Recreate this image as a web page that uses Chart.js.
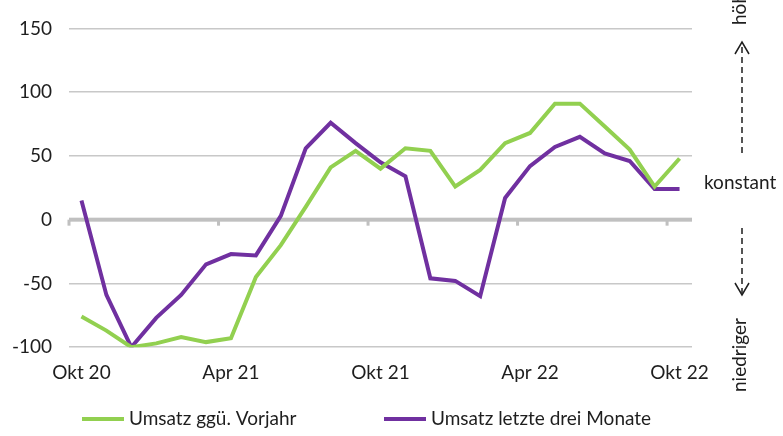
<!DOCTYPE html>
<html>
<head>
<meta charset="utf-8">
<script src="https://cdn.jsdelivr.net/npm/chart.js@4.4.1/dist/chart.umd.min.js"></script>
<style>
  body { margin: 0; background: #fff; }
  #wrap { width: 783px; height: 436px; position: relative; }
</style>
</head>
<body>
<div id="wrap"><canvas id="Chart"></canvas></div>
<script>
const months = ["Okt 20","Nov 20","Dez 20","Jan 21","Feb 21","Mär 21","Apr 21","Mai 21","Jun 21","Jul 21","Aug 21","Sep 21",
                "Okt 21","Nov 21","Dez 21","Jan 22","Feb 22","Mär 22","Apr 22","Mai 22","Jun 22","Jul 22","Aug 22","Sep 22","Okt 22"];
const shownLabels = ["Okt 20","Apr 21","Okt 21","Apr 22","Okt 22"];
const yTicks = [-100, -50, 0, 50, 100, 150];
const vorjahr    = [-76,-87,-100,-97,-92,-96,-93,-45,-20,10,41,54,40,56,54,26,39,60,68,91,91,73,55,26,48];
const dreiMonate = [15,-59,-100,-77,-59,-35,-27,-28,3,56,76,60,45,34,-46,-48,-60,17,42,57,65,52,46,24,24];
const seriesNames = ["Umsatz ggü. Vorjahr", "Umsatz letzte drei Monate"];
const seriesColors = ["#92d050", "#7030a0"];

const FONT_SIZE = 19;
const FONT = FONT_SIZE + "px Lato";
const TEXT = "#1e1e1e";

// zero line with small tick stubs under it, like an axis crossing at 0
const zeroAxis = {
  id: "zeroAxis",
  beforeDatasetsDraw(chart) {
    const {ctx, scales: {x, y}} = chart;
    const y0 = y.getPixelForValue(0);
    ctx.save();
    ctx.fillStyle = "#c0c0c0";
    ctx.fillRect(x.left, y0 - 2, x.right - x.left, 4);
    shownLabels.forEach(l => {
      const px = x.getPixelForValue(months.indexOf(l) - 0.5);
      ctx.fillRect(px - 1.5, y0, 3, 6);
    });
    ctx.restore();
  }
};

// legend with line samples + the höher / konstant / niedriger hints on the right
const extras = {
  id: "extras",
  afterDraw(chart) {
    const ctx = chart.ctx;
    ctx.save();
    ctx.font = FONT;
    ctx.fillStyle = TEXT;
    ctx.textBaseline = "middle";

    // legend, two entries side by side
    const ly = 419, box = 42, gap = 5;
    const starts = [82, 384];
    seriesNames.forEach((n, i) => {
      ctx.fillStyle = seriesColors[i];
      ctx.fillRect(starts[i], ly - 2, box, 4);
      ctx.fillStyle = TEXT;
      ctx.textAlign = "left";
      ctx.fillText(n, starts[i] + box + gap, ly);
    });

    // right-hand hints
    ctx.textAlign = "left";
    ctx.fillText("konstant", 704, 183);
    [["höher", 25], ["niedriger", 392]].forEach(([t, yy]) => {
      ctx.save();
      ctx.translate(740, yy);
      ctx.rotate(-Math.PI / 2);
      ctx.fillText(t, 0, 0);
      ctx.restore();
    });

    ctx.strokeStyle = TEXT;
    ctx.lineWidth = 1.5;
    ctx.setLineDash([6, 4]);
    ctx.beginPath();
    ctx.moveTo(742, 153); ctx.lineTo(742, 44);
    ctx.moveTo(742, 228); ctx.lineTo(742, 293);
    ctx.stroke();
    ctx.setLineDash([]);
    ctx.beginPath();
    ctx.moveTo(735, 54); ctx.lineTo(742, 42); ctx.lineTo(749, 54);
    ctx.moveTo(735, 283); ctx.lineTo(742, 295); ctx.lineTo(749, 283);
    ctx.stroke();
    ctx.restore();
  }
};

new Chart("Chart", {
  type: "line",
  data: {
    labels: months,
    datasets: [{
      label: seriesNames[0],
      data: vorjahr,
      borderColor: seriesColors[0],
      backgroundColor: seriesColors[0],
      borderWidth: 4,
      pointRadius: 0,
      tension: 0,
      fill: false
    }, {
      label: seriesNames[1],
      data: dreiMonate,
      borderColor: seriesColors[1],
      backgroundColor: seriesColors[1],
      borderWidth: 4,
      pointRadius: 0,
      tension: 0,
      fill: false
    }]
  },
  options: {
    responsive: true,
    maintainAspectRatio: false,
    animation: false,
    layout: {padding: {top: 24, right: 91, bottom: 38, left: 0}},
    plugins: {
      legend: {display: false},
      tooltip: {enabled: false}
    },
    scales: {
      x: {
        offset: true,
        grid: {display: false, drawTicks: false},
        border: {display: false},
        ticks: {
          autoSkip: false,
          maxRotation: 0,
          padding: 14,
          color: TEXT,
          font: {family: "Lato", size: FONT_SIZE},
          callback: (v, i) => shownLabels.includes(months[i]) ? months[i] : ""
        }
      },
      y: {
        min: -100,
        max: 150,
        afterFit: s => { s.width = 69; },
        afterBuildTicks: s => { s.ticks = yTicks.map(v => ({value: v})); },
        grid: {
          drawTicks: false,
          color: c => c.tick.value === 0 ? "rgba(0,0,0,0)" : "#c8c8c8",
          lineWidth: 1.5
        },
        border: {display: false},
        ticks: {
          padding: 17,
          color: TEXT,
          font: {family: "Lato", size: FONT_SIZE}
        }
      }
    }
  },
  plugins: [zeroAxis, extras]
});
</script>
</body>
</html>
